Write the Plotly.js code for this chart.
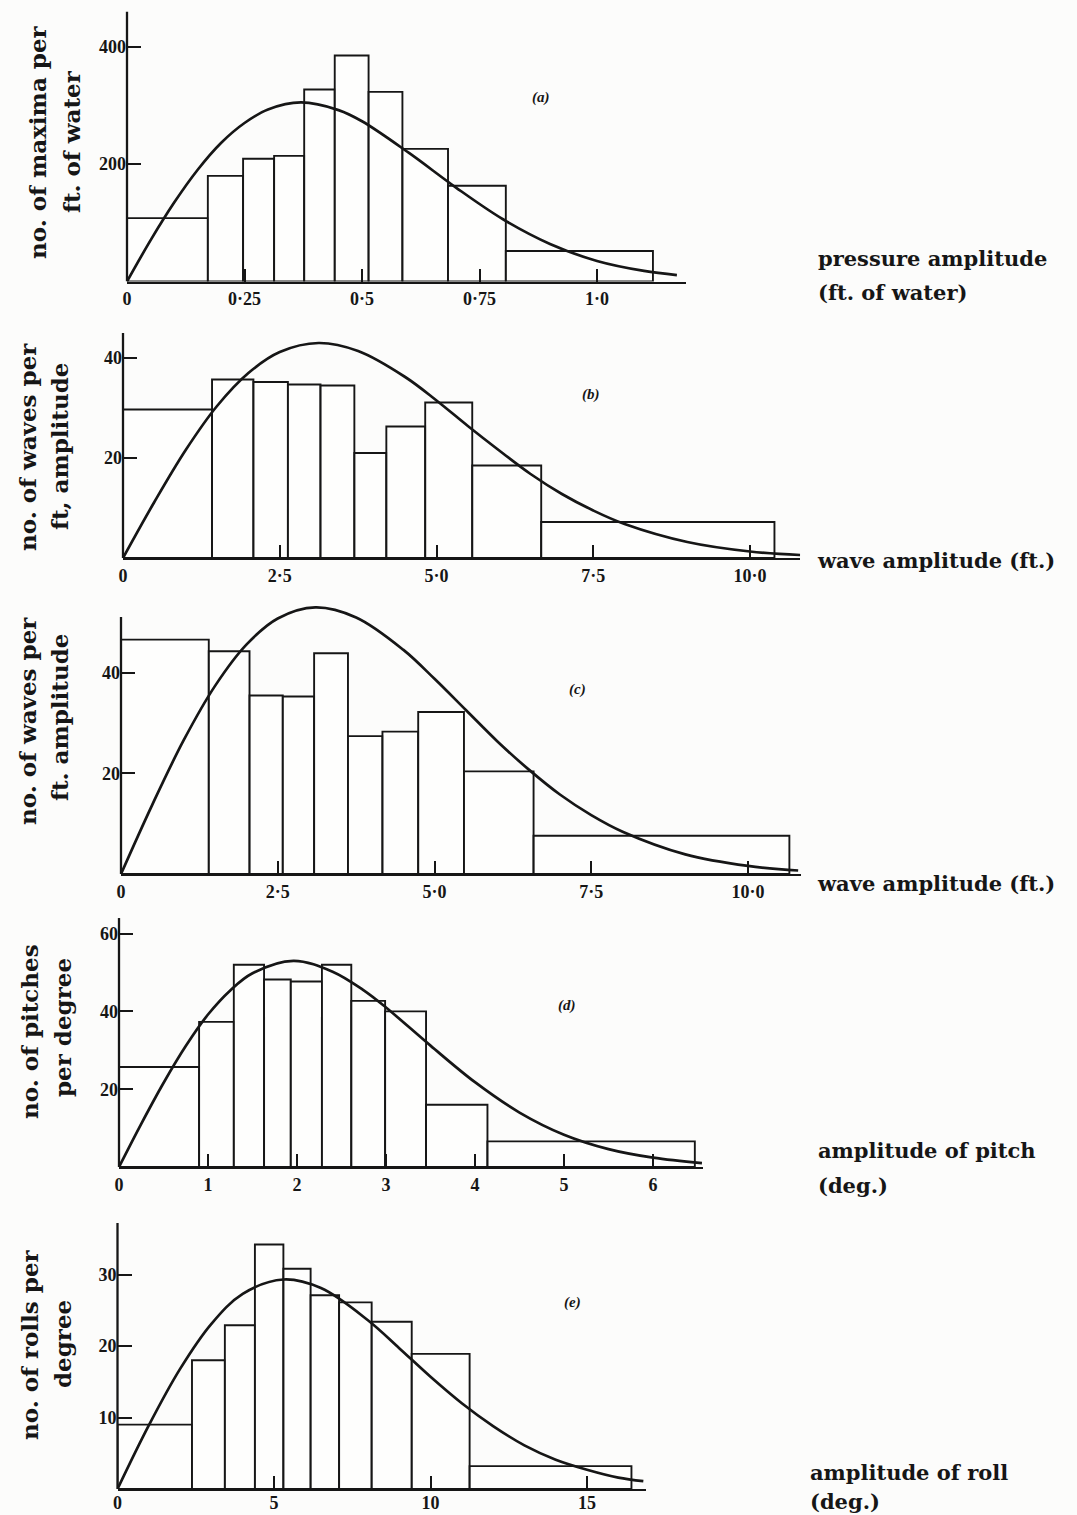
<!DOCTYPE html>
<html>
<head>
<meta charset="utf-8">
<script src="https://cdn.plot.ly/plotly-3.0.1.min.js"></script>
<style>html,body{margin:0;padding:0;background:#fcfcfb;}#chart{width:1077px;height:1515px;}</style>
</head>
<body>
<div id="chart"></div>
<script>
// ---------- DATA ----------
// (a) pressure amplitude
const aEdges  = [0, 0.172, 0.247, 0.313, 0.377, 0.442, 0.514, 0.586, 0.683, 0.806, 1.119];
const aCounts = [108, 180, 209, 214, 327, 385, 323, 226, 163, 52];
const aCurveX = [0, 0.05, 0.1, 0.15, 0.2, 0.25, 0.3, 0.37, 0.45, 0.5, 0.6, 0.7, 0.8, 0.9, 1.0, 1.1, 1.17];
const aCurveY = [0, 70, 134, 190, 236, 270, 293, 305, 292, 273, 219, 160, 106, 64, 35, 18, 11];
const aXTicks = [0, 0.25, 0.5, 0.75, 1.0];
const aXText  = ['0', '0·25', '0·5', '0·75', '1·0'];
const aYTicks = [200, 400];

// (b) wave amplitude
const bEdges  = [0, 1.42, 2.08, 2.63, 3.15, 3.69, 4.20, 4.82, 5.57, 6.67, 10.39];
const bCounts = [29.7, 35.7, 35.2, 34.7, 34.5, 21, 26.3, 31.1, 18.5, 7.2];
const bCurveX = [0, 0.5, 1, 1.5, 2, 2.5, 3.12, 3.75, 4.5, 5, 5.5, 6, 6.5, 7, 7.5, 8, 9, 10, 10.8];
const bCurveY = [0, 11.2, 21.6, 30.4, 37, 41.2, 43, 41.4, 36.2, 31.5, 26.4, 21.5, 16.8, 12.8, 9.5, 6.8, 3.2, 1.3, 0.6];
const bXTicks = [0, 2.5, 5, 7.5, 10];
const bXText  = ['0', '2·5', '5·0', '7·5', '10·0'];
const bYTicks = [20, 40];

// (c) wave amplitude
const cEdges  = [0, 1.40, 2.05, 2.58, 3.08, 3.62, 4.17, 4.74, 5.47, 6.58, 10.66];
const cCounts = [46.6, 44.3, 35.5, 35.3, 43.9, 27.4, 28.3, 32.2, 20.4, 7.6];
const cCurveX = [0, 0.5, 1, 1.5, 2, 2.5, 3.1, 3.75, 4.5, 5, 5.5, 6, 6.5, 7, 7.5, 8, 9, 10, 10.8];
const cCurveY = [0, 13.8, 26.6, 37.4, 45.6, 50.8, 53, 51, 44.6, 38.8, 32.6, 26.4, 20.8, 15.8, 11.7, 8.4, 3.9, 1.6, 0.7];
const cXTicks = [0, 2.5, 5, 7.5, 10];
const cXText  = ['0', '2·5', '5·0', '7·5', '10·0'];
const cYTicks = [20, 40];

// (d) amplitude of pitch
const dEdges  = [0, 0.90, 1.29, 1.63, 1.93, 2.28, 2.61, 2.99, 3.45, 4.14, 6.47];
const dCounts = [25.7, 37.3, 52, 48.2, 47.7, 52, 42.7, 40.0, 16, 6.6];
const dCurveX = [0, 0.25, 0.5, 0.75, 1, 1.25, 1.5, 1.96, 2.4, 2.75, 3, 3.5, 4, 4.5, 5, 5.5, 6, 6.55];
const dCurveY = [0, 11.1, 21.6, 31.1, 39.2, 45.4, 49.8, 53, 50.2, 45.4, 41, 31.2, 21.8, 14, 8.3, 4.6, 2.4, 1];
const dXTicks = [0, 1, 2, 3, 4, 5, 6];
const dXText  = ['0', '1', '2', '3', '4', '5', '6'];
const dYTicks = [20, 40, 60];

// (e) amplitude of roll
const eEdges  = [0, 2.38, 3.43, 4.39, 5.30, 6.17, 7.08, 8.12, 9.40, 11.25, 16.42];
const eCounts = [9.0, 18.0, 22.9, 34.2, 30.8, 27.1, 26.1, 23.4, 18.9, 3.2];
const eCurveX = [0, 1, 2, 3, 4, 5.3, 6.5, 8, 9, 10, 11, 12, 13, 14, 15, 16, 16.8];
const eCurveY = [0, 8.9, 16.8, 23.1, 27.3, 29.3, 28.1, 23.6, 19.7, 15.7, 12, 8.8, 6.1, 4.1, 2.7, 1.6, 1.1];
const eXTicks = [0, 5, 10, 15];
const eXText  = ['0', '5', '10', '15'];
const eYTicks = [10, 20, 30];

// ---------- LAYOUT (pixel geometry of each panel) ----------
const W = 1077, H = 1515;
const panels = [
  {edges:aEdges, counts:aCounts, cx:aCurveX, cy:aCurveY, xt:aXTicks, xtt:aXText, yt:aYTicks,
   x0:127, ux:470, xMax:1.19, base:281.5, uy:0.587, axisTop:460, yTop:460, lblShift:0},
  {edges:bEdges, counts:bCounts, cx:bCurveX, cy:bCurveY, xt:bXTicks, xtt:bXText, yt:bYTicks,
   x0:123, ux:62.7, xMax:10.8, base:558, uy:5.0, axisTop:45, yTop:45, lblShift:0},
  {edges:cEdges, counts:cCounts, cx:cCurveX, cy:cCurveY, xt:cXTicks, xtt:cXText, yt:cYTicks,
   x0:121, ux:62.7, xMax:10.85, base:874, uy:5.03, axisTop:51.1, yTop:54.5, lblShift:0},
  {edges:dEdges, counts:dCounts, cx:dCurveX, cy:dCurveY, xt:dXTicks, xtt:dXText, yt:dYTicks,
   x0:119, ux:89, xMax:6.56, base:1167, uy:3.89, axisTop:64, yTop:64, lblShift:0},
  {edges:eEdges, counts:eCounts, cx:eCurveX, cy:eCurveY, xt:eXTicks, xtt:eXText, yt:eYTicks,
   x0:117.5, ux:31.3, xMax:16.9, base:1489, uy:7.15, axisTop:37.2, yTop:37.2, lblShift:-4}
];

const ink = '#161616';
const tickFont = {family: 'Liberation Serif', size: 18, color: ink, weight: 'bold'};
const traces = [];
const layout = {
  width: W, height: H,
  margin: {l:0, r:0, t:0, b:0},
  paper_bgcolor: '#fcfcfb', plot_bgcolor: 'rgba(0,0,0,0)',
  showlegend: false,
  bargap: 0,
  shapes: [],
  annotations: []
};

panels.forEach((p, i) => {
  const n = i === 0 ? '' : String(i + 1);
  const xa = 'x' + n, ya = 'y' + n;
  const centers = [], widths = [];
  for (let k = 0; k < p.counts.length; k++) {
    centers.push((p.edges[k] + p.edges[k + 1]) / 2);
    widths.push(p.edges[k + 1] - p.edges[k]);
  }
  traces.push({
    type: 'bar', x: centers, y: p.counts, width: widths, xaxis: xa, yaxis: ya,
    marker: {color: 'rgba(255,255,255,0.6)', line: {color: ink, width: 1.9}},
    hoverinfo: 'skip'
  });
  traces.push({
    type: 'scatter', mode: 'lines', x: p.cx, y: p.cy, xaxis: xa, yaxis: ya,
    line: {color: ink, width: 2.7, shape: 'spline', smoothing: 1.0},
    hoverinfo: 'skip'
  });
  const xl = p.x0 / W, xr = (p.x0 + p.xMax * p.ux) / W;
  const yb = 1 - p.base / H, yt = 1 - (p.base - p.yTop * p.uy) / H;
  layout['xaxis' + n] = {
    domain: [xl, xr], range: [0, p.xMax], anchor: ya,
    showgrid: false, zeroline: false, showline: true, linecolor: ink, linewidth: 2.3,
    ticks: 'inside', ticklen: 13, tickwidth: 2, tickcolor: ink,
    tickmode: 'array', tickvals: p.xt, ticktext: p.xtt, tickfont: tickFont,
    ticklabelstandoff: p.lblShift,
    fixedrange: true
  };
  layout['yaxis' + n] = {
    domain: [yb, yt], range: [0, p.yTop], anchor: xa,
    showgrid: false, zeroline: false, showline: false,
    ticks: 'inside', ticklen: 14, tickwidth: 2, tickcolor: ink,
    tickmode: 'array', tickvals: p.yt, tickfont: tickFont,
    fixedrange: true
  };
  layout.shapes.push({
    type: 'line', xref: xa + ' domain', yref: ya,
    x0: 0, x1: 0, y0: 0, y1: p.axisTop,
    line: {color: ink, width: 2.3}
  });
});

// ---------- TEXT ----------
const titleFont = {family: 'DejaVu Serif', size: 23, color: ink, weight: 'bold'};
const sideFont = {family: 'DejaVu Serif', size: 21, color: ink, weight: 'bold'};
const tagFont = {family: 'Liberation Serif', size: 15, color: ink, weight: 'bold'};
function ann(text, px, py, font, opts) {
  return Object.assign({
    text: text, x: px / W, y: 1 - py / H, xref: 'paper', yref: 'paper',
    showarrow: false, font: font, xanchor: 'center', yanchor: 'middle'
  }, opts || {});
}
const A = layout.annotations;
// y-axis titles (two rotated lines each)
A.push(ann('no. of maxima per', 37, 142, titleFont, {textangle: -90}));
A.push(ann('ft. of water', 71, 142, titleFont, {textangle: -90}));
A.push(ann('no. of waves per', 27, 447, titleFont, {textangle: -90}));
A.push(ann('ft, amplitude', 59, 447, titleFont, {textangle: -90}));
A.push(ann('no. of waves per', 27, 721, titleFont, {textangle: -90}));
A.push(ann('ft. amplitude', 59, 718, titleFont, {textangle: -90}));
A.push(ann('no. of pitches', 29, 1032, titleFont, {textangle: -90}));
A.push(ann('per degree', 62, 1028, titleFont, {textangle: -90}));
A.push(ann('no. of rolls per', 29, 1345, titleFont, {textangle: -90}));
A.push(ann('degree', 62, 1344, titleFont, {textangle: -90}));
// x-axis descriptions at right
A.push(ann('pressure amplitude', 816, 258, sideFont, {xanchor: 'left'}));
A.push(ann('(ft. of water)', 816, 292, sideFont, {xanchor: 'left'}));
A.push(ann('wave amplitude (ft.)', 815, 560, sideFont, {xanchor: 'left'}));
A.push(ann('wave amplitude (ft.)', 815, 883, sideFont, {xanchor: 'left'}));
A.push(ann('amplitude of pitch', 816, 1150, sideFont, {xanchor: 'left'}));
A.push(ann('(deg.)', 816, 1185, sideFont, {xanchor: 'left'}));
A.push(ann('amplitude of roll', 808, 1472, sideFont, {xanchor: 'left'}));
A.push(ann('(deg.)', 808, 1501, sideFont, {xanchor: 'left'}));
// panel tags
A.push(ann('<i>(a)</i>', 541, 97, tagFont));
A.push(ann('<i>(b)</i>', 591, 394, tagFont));
A.push(ann('<i>(c)</i>', 577, 690, tagFont));
A.push(ann('<i>(d)</i>', 567, 1005, tagFont));
A.push(ann('<i>(e)</i>', 572, 1302, tagFont));

Plotly.newPlot('chart', traces, layout, {staticPlot: true, displayModeBar: false});
</script>
</body>
</html>
